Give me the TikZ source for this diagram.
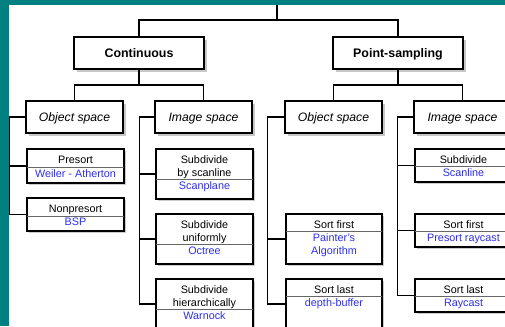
\documentclass[tikz,border=0pt]{standalone}
\usepackage{fontspec}
\setmainfont{Liberation Sans}
\usetikzlibrary{shadows}
\definecolor{tealbg}{RGB}{0,128,128}
\definecolor{algblue}{RGB}{45,45,245}
\begin{document}
\begin{tikzpicture}[x=1pt,y=-1pt,
  mainbox/.style={draw=black,line width=1.7pt,fill=white,inner sep=0pt,minimum height=32pt,
    text height=8.8pt,text depth=0pt,
    general shadow={fill=black!22,shadow xshift=3pt,shadow yshift=-3pt}},
  catfont/.style={font=\fontsize{12.4}{14}\selectfont\bfseries},
  spcfont/.style={font=\fontsize{12.2}{14}\selectfont\itshape},
  leafbox/.style={draw=black,line width=1.5pt,fill=white,inner sep=0pt,
    general shadow={fill=black!20,shadow xshift=1.5pt,shadow yshift=-1.5pt}},
  divline/.style={draw=black!60,line width=0.8pt},
  conn/.style={draw=black,line width=1.3pt},
  lbl/.style={font=\fontsize{10.8}{13}\selectfont,inner sep=0pt,anchor=base},
  alg/.style={lbl,text=algblue}]
\useasboundingbox (0,0) rectangle (505,326);
\clip (0,0) rectangle (505,326);
\fill[tealbg] (0,0) rectangle (505,326);
\fill[white] (9,5) rectangle (515,335);

% main boxes
\node[mainbox,catfont,minimum width=130pt] (cont) at (139,53) {Continuous};
\node[mainbox,catfont,minimum width=130pt] (ps) at (398,53) {Point-sampling};
\node[mainbox,spcfont,minimum width=97pt] (objc) at (74.5,117) {Object space};
\node[mainbox,spcfont,minimum width=97pt] (imgc) at (203.5,117) {Image space};
\node[mainbox,spcfont,minimum width=97pt] (objp) at (333.5,117) {Object space};
\node[mainbox,spcfont,minimum width=97pt] (imgp) at (462.5,117) {Image space};

% leaf boxes
\node[leafbox,minimum width=97pt,minimum height=34pt] (presort) at (75.5,166) {};
\node[leafbox,minimum width=97pt,minimum height=33pt] (nonpre) at (75.5,214.5) {};
\node[leafbox,minimum width=97pt,minimum height=50pt] (sbs) at (204.5,174) {};
\node[leafbox,minimum width=97pt,minimum height=50pt] (suni) at (204.5,239) {};
\node[leafbox,minimum width=97pt,minimum height=50pt] (shier) at (204.5,304) {};
\node[leafbox,minimum width=96pt,minimum height=50pt] (sortfirst) at (334,239) {};
\node[leafbox,minimum width=96pt,minimum height=50pt] (sortlast) at (334,304) {};
\node[leafbox,minimum width=97pt,minimum height=33pt] (subscan) at (463.5,165.5) {};
\node[leafbox,minimum width=97pt,minimum height=33pt] (presray) at (463.5,230.5) {};
\node[leafbox,minimum width=97pt,minimum height=33pt] (raycast) at (463.5,295.5) {};

% dividers
\draw[divline] (27,167) -- (124,167);
\draw[divline] (27,216) -- (124,216);
\draw[divline] (156,179) -- (253,179);
\draw[divline] (156,244) -- (253,244);
\draw[divline] (156,309) -- (253,309);
\draw[divline] (286,231) -- (382,231);
\draw[divline] (286,296) -- (382,296);
\draw[divline] (415,166) -- (512,166);
\draw[divline] (415,231) -- (512,231);
\draw[divline] (415,296) -- (512,296);

% texts
\node[lbl] (t1) at (75.5,163) {Presort};
\node[alg] (t2) at (75.5,177) {Weiler - Atherton};
\node[lbl] (t3) at (75.5,212.5) {Nonpresort};
\node[alg] (t4) at (75.5,225) {BSP};
\node[lbl] (t5) at (204.5,163) {Subdivide};
\node[lbl] (t6) at (204.5,176) {by scanline};
\node[alg] (t7) at (204.5,189) {Scanplane};
\node[lbl] (t8) at (204.5,228) {Subdivide};
\node[lbl] (t9) at (204.5,241) {uniformly};
\node[alg] (t10) at (204.5,254) {Octree};
\node[lbl] (t11) at (204.5,293) {Subdivide};
\node[lbl] (t12) at (204.5,306) {hierarchically};
\node[alg] (t13) at (204.5,319) {Warnock};
\node[lbl] (t14) at (334,228) {Sort first};
\node[alg] (t15) at (334,241) {Painter's};
\node[alg] (t16) at (334,254) {Algorithm};
\node[lbl] (t17) at (334,293) {Sort last};
\node[alg] (t18) at (334,306) {depth-buffer};
\node[lbl] (t19) at (463.5,163) {Subdivide};
\node[alg] (t20) at (463.5,176) {Scanline};
\node[lbl] (t21) at (463.5,228) {Sort first};
\node[alg] (t22) at (463.5,241) {Presort raycast};
\node[lbl] (t23) at (463.5,293) {Sort last};
\node[alg] (t24) at (463.5,306) {Raycast};

% connectors
\coordinate (top) at (277,5);
\coordinate (j0) at (277,20);
\coordinate (jc) at (139,85);
\coordinate (jp) at (398,85);
\draw[conn] (top) -- (j0);
\draw[conn] (cont.north) |- (j0) -| (ps.north);
\draw[conn] (cont.south) -- (jc);
\draw[conn] (objc.north) |- (jc) -| (imgc.north);
\draw[conn] (ps.south) -- (jp);
\draw[conn] (objp.north) |- (jp) -| (imgp.north);

\draw[conn] (objc.west) -| ([xshift=-17pt]nonpre.west) -- (nonpre.west);
\draw[conn] (presort.west) -- ++(-17,0);
\draw[conn] (imgc.west) -| ([xshift=-16pt]shier.west) -- (shier.west);
\draw[conn] (sbs.west) -- ++(-16,0);
\draw[conn] (suni.west) -- ++(-16,0);
\draw[conn] (objp.west) -| ([xshift=-18pt]sortlast.west) -- (sortlast.west);
\draw[conn] (sortfirst.west) -- ++(-18,0);
\draw[conn] (imgp.west) -| ([xshift=-17pt]raycast.west) -- (raycast.west);
\draw[conn] (subscan.west) -- ++(-17,0);
\draw[conn] (presray.west) -- ++(-17,0);
\end{tikzpicture}
\end{document}
